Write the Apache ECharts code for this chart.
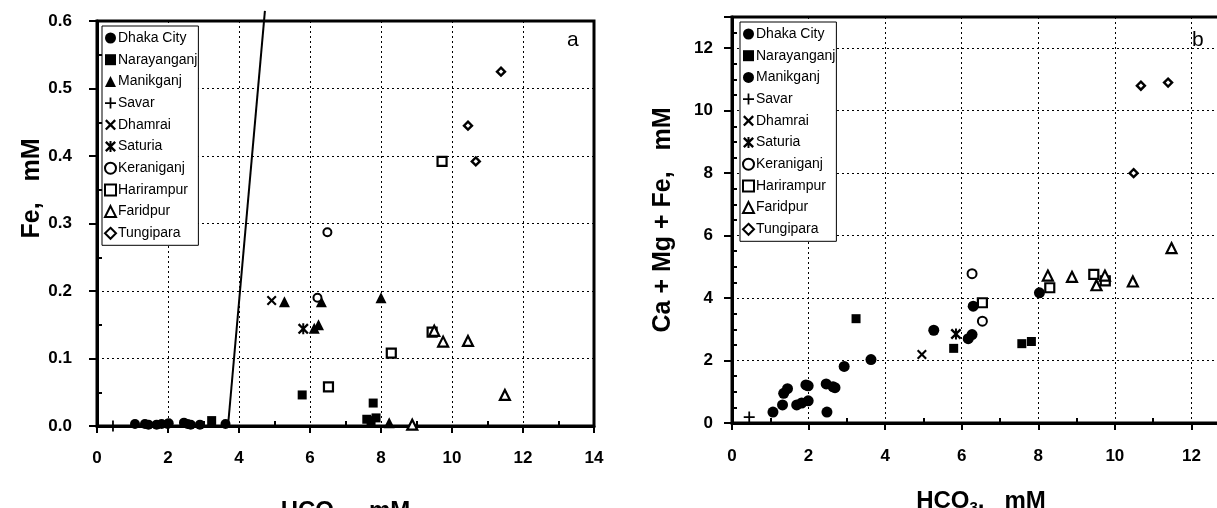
<!DOCTYPE html>
<html><head><meta charset="utf-8">
<script src="https://cdn.jsdelivr.net/npm/echarts@6/dist/echarts.min.js"></script>
<style>html,body{margin:0;padding:0;background:#fff}#c{width:1217px;height:508px}</style>
</head><body><div id="c"></div>
<script>
// ---------- categories ----------
const groups = ['Dhaka City','Narayanganj','Manikganj','Savar','Dhamrai','Saturia','Keraniganj','Harirampur','Faridpur','Tungipara'];

// ---------- panel a : HCO3 (mM) vs Fe (mM) ----------
const aDhaka = [[1.07,0.003],[1.35,0.003],[1.45,0.002],[1.68,0.002],[1.82,0.003],[1.99,0.003],[2.02,0.004],[2.45,0.005],[2.55,0.003],[2.64,0.002],[2.9,0.002],[3.62,0.003]];
const aNarayanganj = [[3.23,0.008],[5.78,0.046],[7.78,0.034],[7.6,0.01],[7.72,0.008],[7.86,0.012]];
const aManikganj = [[5.28,0.184],[6.32,0.184],[6.12,0.145],[6.24,0.15],[8.0,0.19],[8.23,0.005]];
const aSavar = [[0.45,0.0]];
const aDhamrai = [[4.92,0.186]];
const aSaturia = [[5.81,0.144]];
const aKeraniganj = [[6.49,0.287],[6.21,0.19]];
const aHarirampur = [[9.72,0.392],[9.44,0.139],[8.29,0.108],[6.52,0.058]];
const aFaridpur = [[9.5,0.141],[9.75,0.125],[10.45,0.126],[11.49,0.046],[8.88,0.002]];
const aTungipara = [[11.38,0.525],[10.45,0.445],[10.67,0.392]];
const aLine = [[3.69,0.0],[4.73,0.615]];

// ---------- panel b : HCO3 (mM) vs Ca + Mg + Fe (mM) ----------
const bDhaka = [[1.07,0.35],[1.32,0.58],[1.35,0.95],[1.45,1.1],[1.69,0.58],[1.82,0.64],[1.99,0.71],[1.93,1.22],[1.99,1.19],[2.46,1.25],[2.64,1.16],[2.69,1.13],[2.48,0.35],[2.93,1.81],[3.63,2.03]];
const bNarayanganj = [[3.24,3.34],[5.79,2.39],[7.57,2.54],[7.82,2.61]];
const bManikganj = [[5.27,2.97],[6.17,2.7],[6.27,2.83],[6.3,3.74],[8.03,4.17]];
const bSavar = [[0.45,0.19]];
const bDhamrai = [[4.96,2.19]];
const bSaturia = [[5.85,2.85]];
const bKeraniganj = [[6.27,4.78],[6.54,3.26]];
const bHarirampur = [[6.54,3.85],[8.3,4.33],[9.45,4.76],[9.75,4.55]];
const bFaridpur = [[8.25,4.72],[8.88,4.68],[9.74,4.72],[9.52,4.41],[10.47,4.53],[11.48,5.6]];
const bTungipara = [[10.68,10.8],[11.39,10.9],[10.49,8.0]];

const aData = [aDhaka,aNarayanganj,aManikganj,aSavar,aDhamrai,aSaturia,aKeraniganj,aHarirampur,aFaridpur,aTungipara];
const bData = [bDhaka,bNarayanganj,bManikganj,bSavar,bDhamrai,bSaturia,bKeraniganj,bHarirampur,bFaridpur,bTungipara];

// ---------- styles ----------
const FONT = '"Liberation Sans", Arial, sans-serif';
const PLUS = 'path://M4.2,0H5.8V4.2H10V5.8H5.8V10H4.2V5.8H0V4.2H4.2Z';
const XS = 'path://M0,1.5L1.5,0L5,3.5L8.5,0L10,1.5L6.5,5L10,8.5L8.5,10L5,6.5L1.5,10L0,8.5L3.5,5Z';
const STAR = 'path://M0,1.5L1.5,0L5,3.5L8.5,0L10,1.5L6.5,5L10,8.5L8.5,10L5,6.5L1.5,10L0,8.5L3.5,5Z M4.1,0H5.9V10H4.1Z';
const solid = (symbol,size)=>({symbol,size,fill:'#000',border:0});
const hollow = (symbol,size,bw)=>({symbol,size,fill:'#fff',border:bw});
const symA = [solid('circle',10),solid('rect',9),solid('triangle',11),solid(PLUS,11),solid(XS,10),solid(STAR,11),hollow('circle',8,2),hollow('rect',9,2.2),hollow('triangle',10,2.2),hollow('diamond',8,2.4)];
const symB = [solid('circle',11),solid('rect',9),solid('circle',11),solid(PLUS,11),solid(XS,10),solid(STAR,11),hollow('circle',9,2),hollow('rect',9,2.2),hollow('triangle',10,2.2),hollow('diamond',8,2.4)];

function mkSeries(prefix, datas, syms, gi){
  return groups.map((g,i)=>({
    name: prefix+g, type:'scatter', xAxisIndex:gi, yAxisIndex:gi,
    data: datas[i], symbol: syms[i].symbol, symbolSize: syms[i].size,
    itemStyle:{color:syms[i].fill, borderColor:'#000', borderWidth:syms[i].border, opacity:1},
    emphasis:{disabled:true}, z: 3
  }));
}

const series = [
  ...mkSeries('', aData, symA, 0),
  ...mkSeries('b:', bData, symB, 1),
  {type:'line', name:'line', xAxisIndex:0, yAxisIndex:0, data:aLine, symbol:'none', clip:false,
   lineStyle:{color:'#000', width:2}, z:2, silent:true}
];

const nameRich = {
  a:{fontSize:24, fontWeight:'bold', fontFamily:FONT, color:'#000'},
  s:{fontSize:15, fontWeight:'bold', fontFamily:FONT, color:'#000', padding:[13,0,0,0]}
};
function xAxisCfg(gi, gap, margin, shift){
  return {
    type:'value', gridIndex:gi, min:0, max:14, interval:2,
    axisLine:{show:true, onZero:false, lineStyle:{color:'#000', width:3}},
    axisTick:{show:true, length:7, lineStyle:{color:'#000', width:2}},
    minorTick:{show:true, splitNumber:2, length:-5, lineStyle:{color:'#000', width:2}},
    splitLine:{show:true, lineStyle:{color:'#000', width:1, type:[2,3]}},
    axisLabel:{fontSize:17, fontWeight:'bold', fontFamily:FONT, color:'#000', margin:margin},
    name:'{a|HCO}{s|3}{a|,   mM}', nameLocation:'middle', nameGap:gap,
    nameTextStyle:{rich:nameRich, padding:[0,shift,0,0]}
  };
}
function yAxisCfg(gi, o){
  return Object.assign({
    type:'value', gridIndex:gi, min:0,
    axisLine:{show:true, onZero:false, lineStyle:{color:'#000', width:3}},
    axisTick:{show:true, length:8, lineStyle:{color:'#000', width:2}},
    splitLine:{show:true, lineStyle:{color:'#000', width:1, type:[2,3]}},
    nameLocation:'middle', nameRotate:90
  }, o);
}

function legendCfg(prefix, left, top){
  return {
    show:true, orient:'vertical', left:left, top:top,
    data: groups.map(g=>prefix+g),
    formatter: n => n.replace(/^b:/,''),
    selectedMode:false,
    itemWidth:11, itemHeight:11, itemGap:5.7,
    padding:[4,1,4,2],
    borderColor:'#000', borderWidth:1, borderRadius:0,
    backgroundColor:'#fff',
    textStyle:{fontSize:14, fontFamily:FONT, color:'#000', lineHeight:16, padding:[0,0,0,-3]}
  };
}

const chart = echarts.init(document.getElementById('c'), null, {renderer:'canvas'});
chart.setOption({
  animation:false,
  backgroundColor:'#fff',
  grid:[
    {left:97, right:623, top:21, bottom:82, show:true, borderColor:'#000', borderWidth:3, backgroundColor:'transparent', outerBoundsMode:'none', containLabel:false},
    {left:732, right:-51, top:17, bottom:85, show:true, borderColor:'#000', borderWidth:3, backgroundColor:'transparent', outerBoundsMode:'none', containLabel:false}
  ],
  xAxis:[ xAxisCfg(0, 71, 24, 0), xAxisCfg(1, 64, 25, 38) ],
  yAxis:[
    yAxisCfg(0, {max:0.6, interval:0.1, name:'Fe,   mM', nameGap:44,
      nameTextStyle:{fontSize:25, fontWeight:'bold', fontFamily:FONT, color:'#000', padding:[0,0,0,70]},
      minorTick:{show:true, splitNumber:2, length:-5, lineStyle:{color:'#000', width:2}},
      axisLabel:{fontSize:17, fontWeight:'bold', fontFamily:FONT, color:'#000', margin:25, formatter:v=>v.toFixed(1)}}),
    yAxisCfg(1, {max:13, interval:2, name:'Ca + Mg + Fe,   mM', nameGap:56,
      nameTextStyle:{fontSize:25, fontWeight:'bold', fontFamily:FONT, color:'#000'},
      minorTick:{show:true, splitNumber:4, length:-5, lineStyle:{color:'#000', width:2}},
      axisLabel:{fontSize:17, fontWeight:'bold', fontFamily:FONT, color:'#000', margin:19, showMaxLabel:false}})
  ],
  legend:[ legendCfg('',102,26), legendCfg('b:',740,22) ],
  graphic:[
    {type:'text', left:567, top:30, style:{text:'a', fontSize:21, fontFamily:FONT, fill:'#000'}},
    {type:'text', left:1192, top:30, style:{text:'b', fontSize:21, fontFamily:FONT, fill:'#000'}}
  ],
  series: series
});
</script>
</body></html>
